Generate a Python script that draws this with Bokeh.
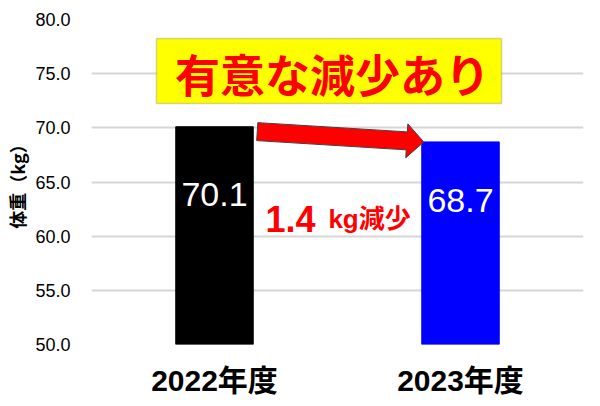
import numpy as np
from bokeh.plotting import figure
from bokeh.models import FixedTicker, NumeralTickFormatter, BoxAnnotation, Label
from bokeh.embed import file_html
from bokeh.resources import INLINE

# ---- data ----
categories = ["2022年度", "2023年度"]
weights = [70.1, 68.7]
bar_colors = ["#000000", "#0000ff"]
y_ticks = [50, 55, 60, 65, 70, 75, 80]
headline = "有意な減少あり"
diff_text = "1.4"
diff_unit = "kg減少"
y_title = "体重（kg）"

LATIN = "'Liberation Sans', 'Noto Sans CJK JP'"
CJK = "'Noto Sans CJK JP'"

W, H = 592, 404
BL, BR, BT, BB = 91, 9, 19, 60
FW, FH = W - BL - BR, H - BT - BB
p = figure(width=W, height=H, x_range=(0, 2), y_range=(50, 80),
           output_backend="svg", toolbar_location=None,
           min_border_left=BL, min_border_right=BR, min_border_top=BT, min_border_bottom=BB)
p.outline_line_color = None
p.background_fill_color = "white"

xs = [i + 0.5 for i in range(len(categories))]
bw = 0.315
p.vbar(x=xs, top=weights, bottom=50, width=bw, color=bar_colors)

# axes
p.xaxis.ticker = FixedTicker(ticks=xs)
p.xaxis.major_label_overrides = {x: c for x, c in zip(xs, categories)}
p.xaxis.major_label_text_font = LATIN
p.xaxis.major_label_text_font_size = "30px"
p.xaxis.major_label_text_font_style = "bold"
p.xaxis.major_label_text_color = "black"
p.xaxis.major_label_standoff = 13
p.xaxis.axis_line_color = None
p.xaxis.major_tick_line_color = None
p.xaxis.minor_tick_line_color = None

p.yaxis.ticker = FixedTicker(ticks=y_ticks)
p.yaxis.formatter = NumeralTickFormatter(format="0.0")
p.yaxis.major_label_text_font = LATIN
p.yaxis.major_label_text_font_size = "18px"
p.yaxis.major_label_text_color = "black"
p.yaxis.major_label_standoff = 15
p.yaxis.axis_line_color = None
p.yaxis.major_tick_line_color = None
p.yaxis.minor_tick_line_color = None
p.yaxis.axis_label = y_title
p.yaxis.axis_label_text_font = CJK
p.yaxis.axis_label_text_font_size = "18px"
p.yaxis.axis_label_text_font_style = "bold"
p.yaxis.axis_label_text_color = "black"
p.yaxis.axis_label_standoff = 2

p.xgrid.visible = False
p.ygrid.grid_line_color = "#d6d6d6"
p.ygrid.grid_line_width = 2

# pixel scales
sx = FW / 2.0
sy = FH / 30.0

# headline box
p.add_layout(BoxAnnotation(left=0.264, right=1.667, top=78.25, bottom=72.25,
                           fill_color="#ffff00", fill_alpha=1.0,
                           line_color="#707070", line_width=1.5, level="annotation"))
p.add_layout(Label(x=0.98, y=75.0, text=headline, text_align="center", text_baseline="middle",
                   text_font=CJK, text_font_size="45px", text_font_style="bold",
                   text_color="#ff0000"))

# arrow from bar 1 to bar 2 top
x0 = xs[0] + bw / 2 + 4 / sx
y0 = weights[0] - 0.45
x1 = xs[1] - bw / 2 + 2 / sx
y1 = weights[1]
P0 = np.array([x0 * sx, y0 * sy])
P1 = np.array([x1 * sx, y1 * sy])
d = P1 - P0
u = d / np.linalg.norm(d)
n = np.array([-u[1], u[0]])
shaft_hw, head_hw, head_len = 9, 17, 17
B = P1 - u * head_len
pts = [P0 + n * shaft_hw, B + n * shaft_hw, B + n * head_hw, P1,
       B - n * head_hw, B - n * shaft_hw, P0 - n * shaft_hw]
p.patch([q[0] / sx for q in pts], [q[1] / sy for q in pts],
        fill_color="#ff0000", line_color="#404040", line_width=1)

# value labels inside bars
val_offsets = [6.25, 5.4]
for x, w, off in zip(xs, weights, val_offsets):
    p.add_layout(Label(x=x, y=w - off, text=f"{w:.1f}", text_align="center", text_baseline="middle",
                       text_font=LATIN, text_font_size="34px", text_color="white"))

# difference text
p.add_layout(Label(x=0.707, y=61.63, text=diff_text, text_align="left", text_baseline="alphabetic",
                   text_font=LATIN, text_font_size="36px", text_font_style="bold", text_color="#ff0000"))
p.add_layout(Label(x=0.963, y=61.63, text=diff_unit, text_align="left", text_baseline="alphabetic",
                   text_font=LATIN, text_font_size="26px", text_font_style="bold", text_color="#ff0000"))

open("out.html", "w").write(file_html(p, INLINE))
